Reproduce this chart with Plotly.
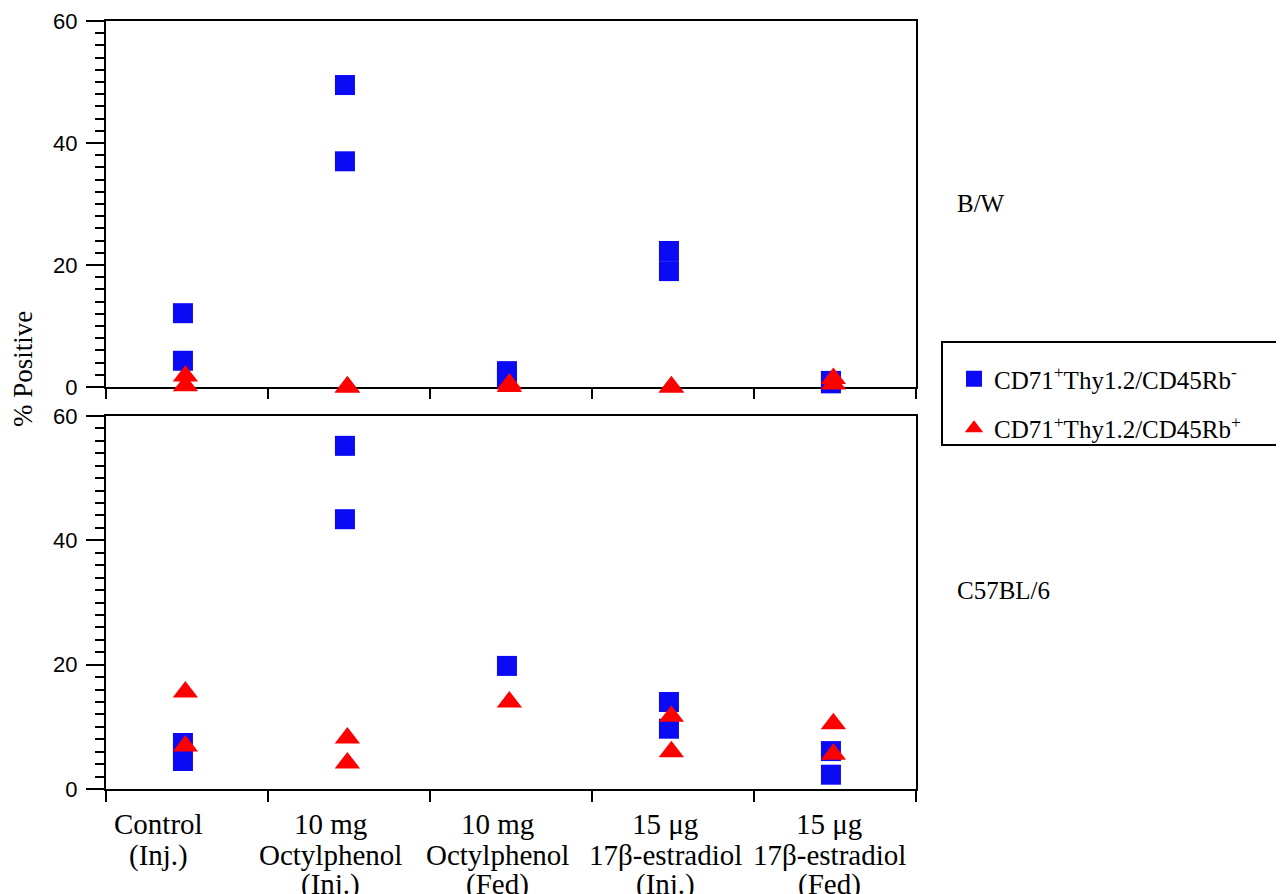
import plotly.graph_objects as go

# ---------------- data ----------------
categories = [
    ["Control", "(Inj.)"],
    ["10 mg", "Octylphenol", "(Inj.)"],
    ["10 mg", "Octylphenol", "(Fed)"],
    ["15 μg", "17β-estradiol", "(Inj.)"],
    ["15 μg", "17β-estradiol", "(Fed)"],
]
series_names = ["CD71<sup>+</sup>Thy1.2/CD45Rb<sup>-</sup>",
                "CD71<sup>+</sup>Thy1.2/CD45Rb<sup>+</sup>"]
panel_names = ["B/W", "C57BL/6"]

# B/W panel
bw_neg_cat = [0, 0, 1, 1, 2, 2, 3, 3, 4, 4]
bw_neg_val = [12.1, 4.3, 49.5, 37.0, 2.6, 1.3, 22.3, 19.0, 1.0, 0.6]
bw_pos_cat = [0, 0, 1, 1, 2, 2, 3, 3, 4, 4]
bw_pos_val = [1.8, 0.2, 0.0, 0.0, 0.5, 0.1, 0.0, 0.0, 1.4, 0.5]

# C57BL/6 panel
c57_neg_cat = [0, 0, 1, 1, 2, 3, 3, 4, 4]
c57_neg_val = [7.4, 4.5, 55.2, 43.4, 19.8, 14.0, 9.7, 6.1, 2.3]
c57_pos_cat = [0, 0, 1, 1, 2, 3, 3, 4, 4]
c57_pos_val = [15.6, 6.9, 8.2, 4.2, 14.0, 11.7, 6.0, 10.5, 5.6]

y_ticks = [0, 20, 40, 60]

# ---------------- layout constants ----------------
PAGE_PAD = 8                      # default body margin of the html page
W, H = 1284 - PAGE_PAD, 894
ML, MT = 106 - PAGE_PAD, 21 - PAGE_PAD
MB = H - (789 - PAGE_PAD)
MR = W - (916 - PAGE_PAD)
PW, PH = W - ML - MR, H - MT - MB
SQ_OFF, TRI_OFF = 0.475, 0.49
LABEL_X = [0.327, 1.383, 2.414, 3.451, 4.463]
SERIF = "Liberation Serif"
SANS = "Liberation Sans"
BLUE = "#0a0af5"
RED = "#ff0000"


def py(px):
    """screen pixel (y) -> paper coordinate"""
    return (H - MB - (px - PAGE_PAD)) / PH


def pxx(px):
    """screen pixel (x) -> paper coordinate"""
    return (px - PAGE_PAD - ML) / PW


fig = go.Figure()

panels = [
    (bw_neg_cat, bw_neg_val, bw_pos_cat, bw_pos_val, "x", "y", True),
    (c57_neg_cat, c57_neg_val, c57_pos_cat, c57_pos_val, "x2", "y2", False),
]
for ncat, nval, pcat, pval, xa, ya, leg in panels:
    fig.add_trace(go.Scatter(
        x=[c + SQ_OFF for c in ncat], y=nval, mode="markers",
        marker=dict(symbol="square", size=20, color=BLUE),
        name=series_names[0], legendgroup="a", showlegend=leg,
        xaxis=xa, yaxis=ya, cliponaxis=False))
    fig.add_trace(go.Scatter(
        x=[c + TRI_OFF for c in pcat], y=pval, mode="markers",
        marker=dict(symbol="triangle-up", size=22, color=RED),
        name=series_names[1], legendgroup="b", showlegend=leg,
        xaxis=xa, yaxis=ya, cliponaxis=False))

xcommon = dict(range=[0, 5], tickmode="array", tickvals=list(range(6)),
               ticks="outside", tickwidth=2, tickcolor="black",
               showticklabels=False, showline=True, linewidth=2,
               linecolor="black", mirror=True, showgrid=False,
               zeroline=False, layer="below traces")
ycommon = dict(range=[0, 60], tickmode="array", tickvals=y_ticks,
               ticks="outside", ticklen=18, tickwidth=2, tickcolor="black",
               minor=dict(tickmode="linear", tick0=0, dtick=2, ticks="outside",
                          ticklen=9, tickwidth=2, tickcolor="black"),
               tickfont=dict(family=SANS, size=22, color="black"),
               showline=True, linewidth=2, linecolor="black", mirror=True,
               showgrid=False, zeroline=False, layer="below traces",
               ticklabelstandoff=4)

top_dom = [py(387), py(21)]
bot_dom = [py(789), py(416)]

fig.update_layout(
    width=W, height=H,
    margin=dict(l=ML, r=MR, t=MT, b=MB, autoexpand=False),
    paper_bgcolor="white", plot_bgcolor="white",
    xaxis=dict(xcommon, domain=[0, 1], anchor="y", ticklen=10),
    yaxis=dict(ycommon, domain=top_dom, anchor="x"),
    xaxis2=dict(xcommon, domain=[0, 1], anchor="y2", ticklen=11),
    yaxis2=dict(ycommon, domain=bot_dom, anchor="x2"),
    legend=dict(x=pxx(954), y=py(356), xanchor="left", yanchor="top",
                font=dict(family=SERIF, size=25, color="black"),
                borderwidth=0, bgcolor="rgba(0,0,0,0)",
                traceorder="grouped", tracegroupgap=14),
    showlegend=True,
)

# legend frame
fig.add_shape(type="rect", xref="paper", yref="paper",
              x0=pxx(942), x1=pxx(1292), y0=py(445), y1=py(342),
              line=dict(color="black", width=2), fillcolor="rgba(0,0,0,0)")

ann = []
# y-axis title
ann.append(dict(text="% Positive", xref="paper", yref="paper",
                x=pxx(23), y=py(369), textangle=-90, showarrow=False,
                xanchor="center", yanchor="middle",
                font=dict(family=SERIF, size=27, color="black")))
# panel labels
for name, base in zip(panel_names, [212, 599]):
    ann.append(dict(text=name, xref="paper", yref="paper",
                    x=pxx(955), y=py(base - 0.338 * 25), showarrow=False,
                    xanchor="left", yanchor="middle",
                    font=dict(family=SERIF, size=25, color="black")))
# category labels (one annotation per line for tight spacing)
line_base = [834, 865, 894]
for xi, lines in zip(LABEL_X, categories):
    for li, txt in enumerate(lines):
        ann.append(dict(text=txt, xref="x2", yref="paper", x=xi,
                        y=py(line_base[li] - 0.338 * 29), showarrow=False,
                        xanchor="center", yanchor="middle",
                        font=dict(family=SERIF, size=29, color="black")))
fig.update_layout(annotations=ann)

fig.write_html("out.html")
